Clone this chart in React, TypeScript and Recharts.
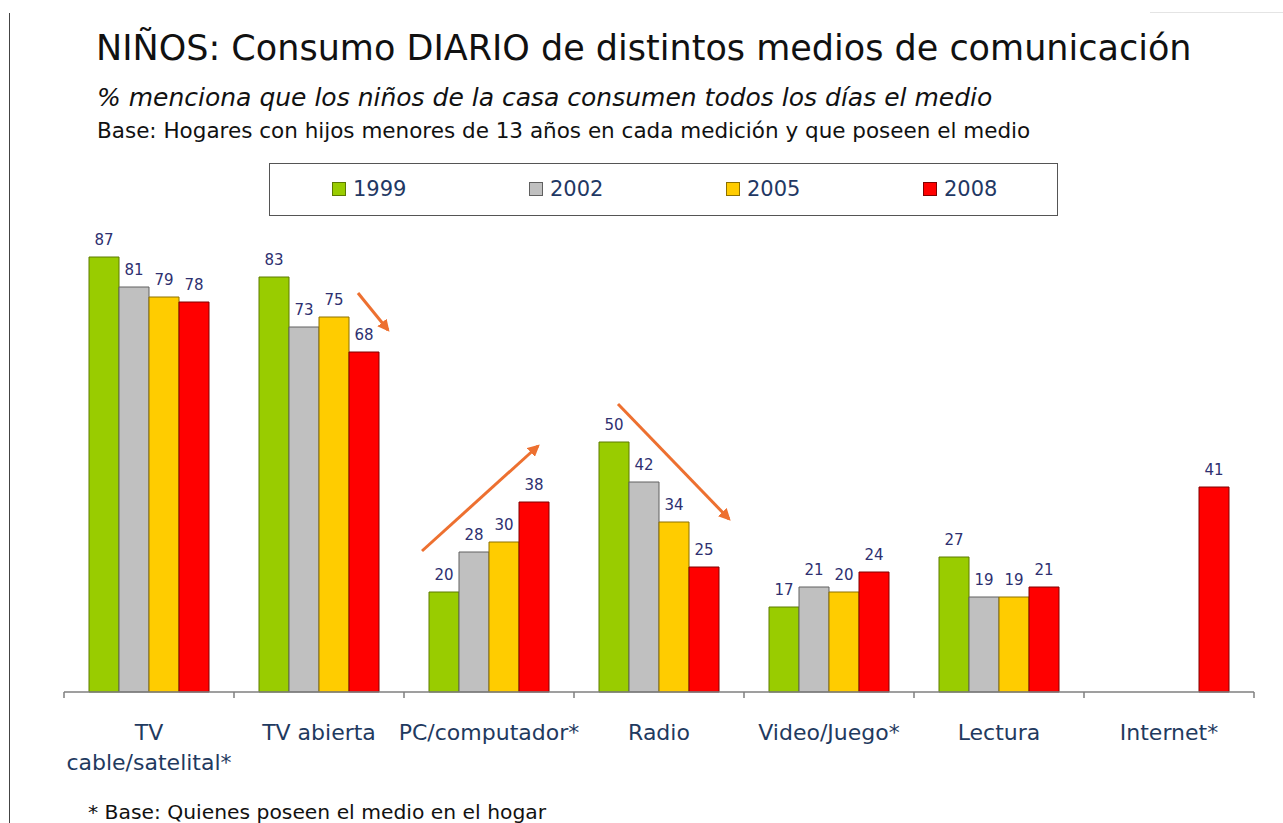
import { BarChart, Bar, XAxis, YAxis, LabelList } from 'recharts';

const FONT = '"DejaVu Sans", Verdana, sans-serif';

// Media categories ("\n" splits the tick label over two lines)
const categories = [
  'TV\ncable/satelital*',
  'TV abierta',
  'PC/computador*',
  'Radio',
  'Video/Juego*',
  'Lectura',
  'Internet*',
];

// % of households where the kids use the medium every day
const v1999 = [87, 83, 20, 50, 17, 27, null];
const v2002 = [81, 73, 28, 42, 21, 19, null];
const v2005 = [79, 75, 30, 34, 20, 19, null];
const v2008 = [78, 68, 38, 25, 24, 21, 41];

const series = [
  { key: 'y1999', name: '1999', fill: '#99cc00', stroke: '#5c7a00' },
  { key: 'y2002', name: '2002', fill: '#c0c0c0', stroke: '#606060' },
  { key: 'y2005', name: '2005', fill: '#ffcc00', stroke: '#8c7000' },
  { key: 'y2008', name: '2008', fill: '#ff0000', stroke: '#800000' },
];

const data = categories.map((name, i) => ({
  name,
  y1999: v1999[i],
  y2002: v2002[i],
  y2005: v2005[i],
  y2008: v2008[i],
}));

// orange trend arrows drawn over the chart (page pixels)
const arrows = [
  { x1: 358, y1: 293, x2: 388, y2: 330 },
  { x1: 422, y1: 551, x2: 538, y2: 446 },
  { x1: 618, y1: 404, x2: 729, y2: 519 },
];

// tick label + small boundary tick marks between categories
function CategoryTick({ x, y, payload }: any) {
  const lines = String(payload.value).split('\n');
  const half = payload.offset ?? 85;
  const last = payload.index === categories.length - 1;
  return (
    <g>
      <line x1={x - half} y1={y} x2={x - half} y2={y + 6} stroke="#7f7f7f" strokeWidth={1.5} />
      {last && <line x1={x + half} y1={y} x2={x + half} y2={y + 6} stroke="#7f7f7f" strokeWidth={1.5} />}
      <text x={x} y={y} textAnchor="middle" fill="#1f3a60" fontSize={22} fontFamily={FONT}>
        {lines.map((l, i) => (
          <tspan key={i} x={x} dy={i === 0 ? 48 : 30}>
            {l}
          </tspan>
        ))}
      </text>
    </g>
  );
}

export default function App() {
  return (
    <div style={{ position: 'absolute', left: 0, top: 0, width: 1283, height: 823, background: '#fff', overflow: 'hidden' }}>
      <div style={{ position: 'absolute', left: 0, top: 0 }}>
        <BarChart
          width={1283}
          height={823}
          data={data}
          margin={{ top: 192, right: 29, left: 64, bottom: 31 }}
          barCategoryGap={25}
          barGap={0}
        >
          <XAxis
            dataKey="name"
            interval={0}
            height={100}
            axisLine={{ stroke: '#7f7f7f', strokeWidth: 1.5 }}
            tickLine={false}
            tickSize={0}
            tickMargin={0}
            tick={<CategoryTick />}
          />
          <YAxis hide domain={[0, 100]} />
          {series.map((s) => (
            <Bar key={s.key} dataKey={s.key} name={s.name} fill={s.fill} stroke={s.stroke} strokeWidth={1} isAnimationActive={false}>
              <LabelList
                dataKey={s.key}
                position="top"
                offset={12}
                fill="#2e3070"
                fontSize={15}
                fontFamily={FONT}
                formatter={(v: any) => (v == null ? '' : v)}
              />
            </Bar>
          ))}
        </BarChart>
      </div>

      {/* legend box */}
      <div
        style={{
          position: 'absolute',
          left: 269,
          top: 163,
          width: 787,
          height: 51,
          border: '1px solid #555',
          background: '#fff',
        }}
      >
        {series.map((s, i) => (
          <div
            key={s.key}
            style={{
              position: 'absolute',
              left: 62 + i * 197,
              top: 12,
              display: 'flex',
              alignItems: 'center',
              fontFamily: FONT,
              fontSize: 21,
              color: '#1f3864',
              lineHeight: '26px',
            }}
          >
            <span
              style={{
                display: 'inline-block',
                width: 12,
                height: 12,
                background: s.fill,
                border: `1px solid ${s.stroke}`,
                marginRight: 7,
              }}
            />
            {s.name}
          </div>
        ))}
      </div>

      <svg width={1283} height={823} style={{ position: 'absolute', left: 0, top: 0, pointerEvents: 'none' }}>
        <defs>
          <marker id="arrowHead" viewBox="0 0 10 10" refX="8" refY="5" markerWidth="4" markerHeight="4" orient="auto">
            <path d="M0,0 L10,5 L0,10 z" fill="#ed7030" />
          </marker>
        </defs>
        <line x1={9.5} y1={13} x2={9.5} y2={823} stroke="#444" strokeWidth={1} />
        <line x1={1150} y1={12.5} x2={1283} y2={12.5} stroke="#e4e4e4" strokeWidth={1} />
        <text x={96} y={60} fontFamily={FONT} fontSize={35} fill="#111">
          NIÑOS: Consumo DIARIO de distintos medios de comunicación
        </text>
        <text x={97} y={106} fontFamily={FONT} fontSize={25} fontStyle="italic" fill="#111">
          % menciona que los niños de la casa consumen todos los días el medio
        </text>
        <text x={97} y={138} fontFamily={FONT} fontSize={21.5} fill="#111">
          Base: Hogares con hijos menores de 13 años en cada medición y que poseen el medio
        </text>
        <text x={88} y={819} fontFamily={FONT} fontSize={20.3} fill="#111">
          * Base: Quienes poseen el medio en el hogar
        </text>
        {arrows.map((a, i) => (
          <line key={i} x1={a.x1} y1={a.y1} x2={a.x2} y2={a.y2} stroke="#ed7030" strokeWidth={3} markerEnd="url(#arrowHead)" />
        ))}
      </svg>
    </div>
  );
}
